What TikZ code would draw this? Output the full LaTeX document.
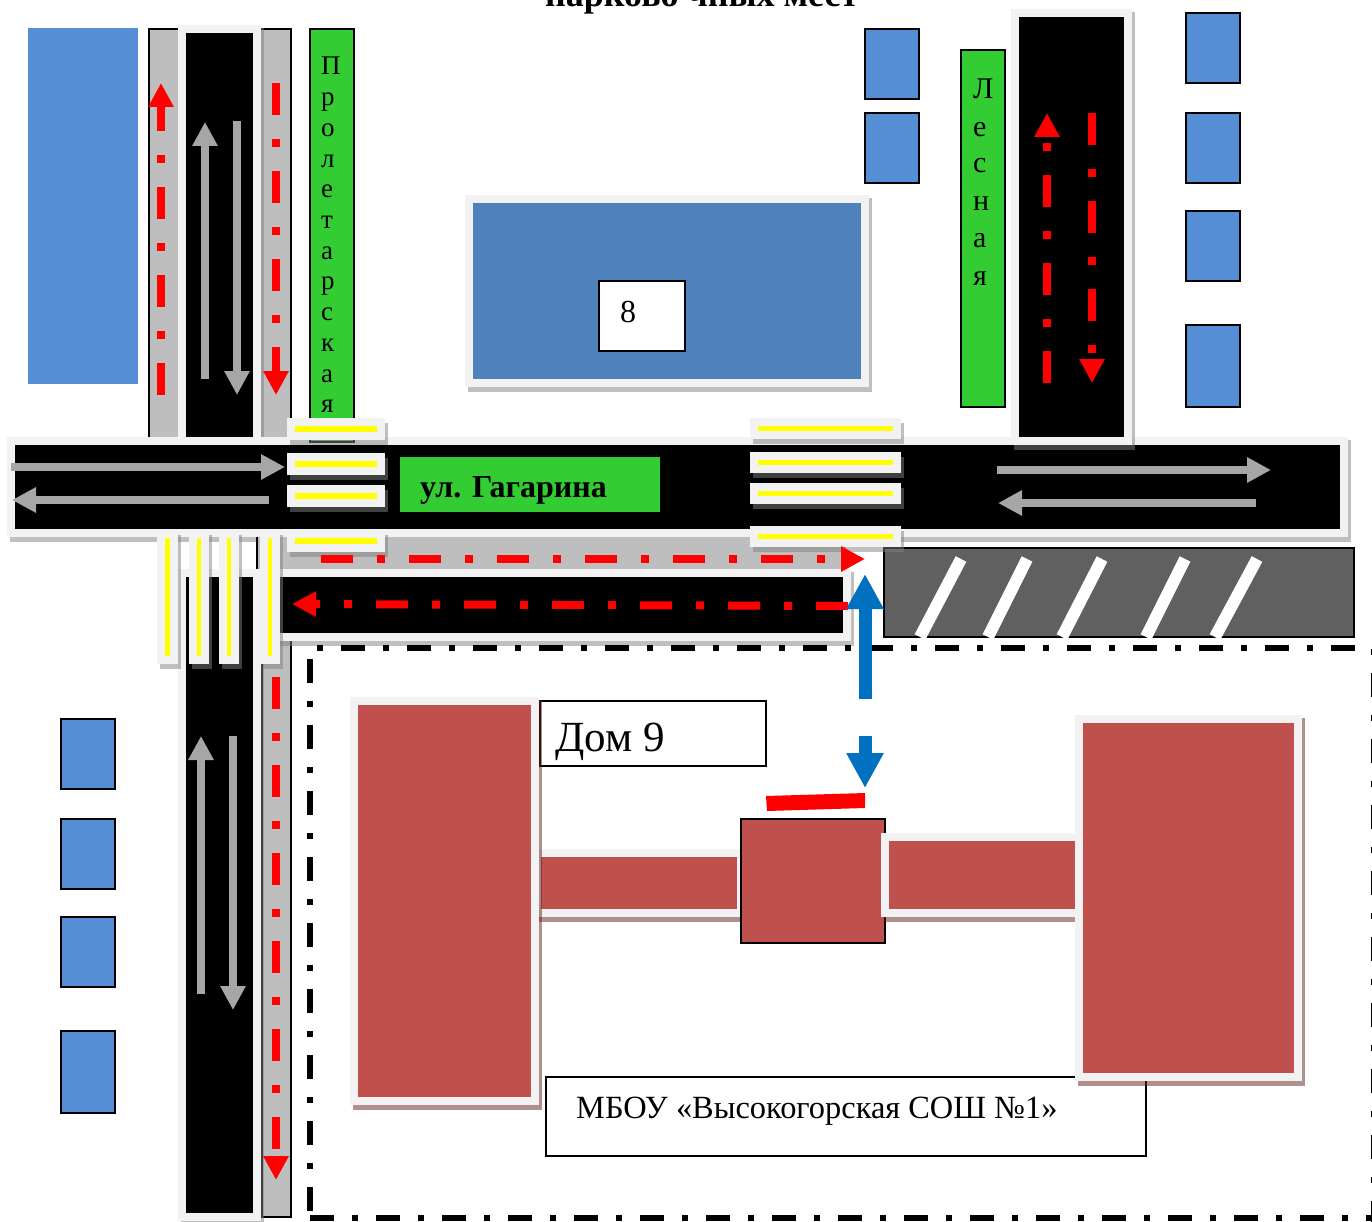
\documentclass[tikz,border=0pt]{standalone}
\usepackage{fontspec}
\setmainfont{Liberation Serif}
\usetikzlibrary{arrows.meta}
\definecolor{roadgrey}{HTML}{BEBEBE}
\definecolor{edgelight}{HTML}{F2F2F2}
\definecolor{shadowgrey}{HTML}{808080}
\definecolor{shadowred}{HTML}{622020}
\definecolor{carblue}{HTML}{558ED5}
\definecolor{bldblue}{HTML}{4F81BD}
\definecolor{labelgreen}{HTML}{33CC33}
\definecolor{brick}{HTML}{C0504D}
\definecolor{flowgrey}{HTML}{A6A6A6}
\definecolor{flowblue}{HTML}{0070C0}
\definecolor{parkgrey}{HTML}{606060}
\definecolor{zebra}{HTML}{FFFF00}
\tikzset{
  redflow/.style={draw=red,line width=8pt,dash pattern=on 32pt off 24pt on 8pt off 24pt,-{Triangle[length=24pt,width=24pt,fill=red]}},
  greyflow/.style={draw=flowgrey,line width=8pt,-{Triangle[length=24pt,width=24pt,fill=flowgrey]}},
  blueflow/.style={draw=flowblue,line width=13pt,-{Triangle[length=35pt,width=35pt,fill=flowblue]}},
  boundary/.style={black,line width=6pt},
  carbox/.style={fill=carblue,draw=black,line width=1.5pt},
  strip/.style={fill=roadgrey,draw=black,line width=1.5pt},
  greenlabel/.style={fill=labelgreen,draw=black,line width=1.5pt},
  caption/.style={inner sep=0pt,anchor=base west,font=\fontsize{#1}{#1}\selectfont},
  textbox/.style={fill=white,draw=black,line width=1.5pt},
}
% inner rectangle with light frame and offset shadow: {shadow}{x1}{y1}{x2}{y2}{fill}
\newcommand{\framedrect}[6]{%
  \fill[#1,opacity=.5] ({#2-5},{#3-5}) rectangle ({#4+11},{#5+13});
  \fill[edgelight] ({#2-8},{#3-8}) rectangle ({#4+8},{#5+8});
  \fill[#6] (#2,#3) rectangle (#4,#5);}
% light crossing bar with yellow core: {x1}{y1}{x2}{y2}, outer box
\newcommand{\crossbar}[4]{%
  \fill[shadowgrey,opacity=.5] ({#1+3},{#2+5}) rectangle ({#3+3},{#4+5});
  \fill[edgelight] (#1,#2) rectangle (#3,#4);
  \fill[zebra] ({#1+8},{#2+8}) rectangle ({#3-8},{#4-8});}
\begin{document}
\begin{tikzpicture}[x=1pt,y=-1pt]
\useasboundingbox (0,0) rectangle (1372,1222);
\clip (0,0) rectangle (1372,1222);

% caption clipped at the top
\node[caption=36] (title) at (545,7) {\bfseries парково чных мест};

% car parks and large block
\fill[carblue] (28,28) rectangle (138,384);
\draw[carbox] (865,29) rectangle (919,99);
\draw[carbox] (865,113) rectangle (919,183);
\draw[carbox] (1186,13) rectangle (1240,83);
\draw[carbox] (1186,113) rectangle (1240,183);
\draw[carbox] (1186,211) rectangle (1240,281);
\draw[carbox] (1186,325) rectangle (1240,407);
\draw[carbox] (61,719) rectangle (115,789);
\draw[carbox] (61,819) rectangle (115,889);
\draw[carbox] (61,917) rectangle (115,987);
\draw[carbox] (61,1031) rectangle (115,1113);

% ul. Proletarskaya, upper part
\draw[strip] (149,29) rectangle (291,445);
\framedrect{shadowgrey}{186}{33}{253}{437}{black}

% ul. Gagarina
\framedrect{shadowgrey}{15}{445}{1340}{529}{black}
\fill[labelgreen] (400,457) rectangle (660,512);
\node[caption=32] (gagarina) at (420,497) {\bfseries ул. Гагарина};

% street name labels
\draw[greenlabel] (310,29) rectangle (354,442);
\foreach \c/\y in {П/75,р/105.7,о/136.4,л/167.1,е/197.8,т/228.5,а/259.2,р/289.9,с/320.6,к/351.3,а/382,я/412.7}
  \node[caption=27] at (321,\y) {\c};

% ul. Lesnaya
\framedrect{shadowgrey}{1019}{17}{1124}{437}{black}
\draw[greenlabel] (961,50) rectangle (1005,407);
\foreach \c/\y in {Л/99,е/136.5,с/173,н/211,а/248,я/286}
  \node[caption=30] at (973,\y) {\c};

% service road and parking
\fill[roadgrey] (257,537) rectangle (846,570);
\draw[black,line width=1.5pt] (257,537) -- (257,570);
\draw[strip] (262,636) rectangle (291,1217);
\framedrect{shadowgrey}{255}{577}{843}{633}{black}
\framedrect{shadowgrey}{186}{577}{253}{1213}{black}
\draw[fill=parkgrey,draw=black,line width=2pt] (884,548) rectangle (1354,637);
\foreach \a/\b in {961/920,1027/988,1102/1062,1185/1146,1257/1215}
  \draw[white,line width=12pt] (\a,559) -- (\b,637);

% building 8
\framedrect{shadowgrey}{473}{203}{861}{379}{bldblue}
\draw[textbox] (599,281) rectangle (685,351);
\node[caption=32] (num8) at (620,323) {8};

% school
\draw[textbox] (546,1077) rectangle (1146,1156);
\node[caption=32.4] (school) at (576,1118) {МБОУ «Высокогорская СОШ №1»};
\draw[textbox] (540,701) rectangle (766,766);
\node[caption=43] (dom9) at (555,751.5) {Дом 9};
\framedrect{shadowred}{541}{857}{737}{909}{brick}
\framedrect{shadowred}{358}{705}{531}{1097}{brick}
\draw[fill=brick,draw=black,line width=1.5pt] (741,819) rectangle (885,943);
\framedrect{shadowred}{889}{841}{1075}{909}{brick}
\framedrect{shadowred}{1083}{723}{1294}{1073}{brick}
\fill[red] (766,796) -- (865,793) -- (865,808) -- (767,811) -- cycle;

% territory boundary
\coordinate (bTL) at (317,648);
\coordinate (bTR) at (1372,648);
\coordinate (bBL) at (310,1218);
\coordinate (bBR) at (1372,1218);
\coordinate (bLb) at (310,1211);
\coordinate (bLt) at (310,659);
\coordinate (bRt) at (1374,649);
\coordinate (bRb) at (1374,1222);
\draw[boundary,dash pattern=on 6pt off 18pt on 24pt off 18pt] (bTL) -- (bTR);
\draw[boundary,dash pattern=on 24pt off 18pt on 6pt off 18pt] (bBL) -- (bBR);
\draw[boundary,dash pattern=on 24pt off 18pt on 6pt off 18pt] (bLb) -- (bLt);
\draw[boundary,dash pattern=on 6pt off 18pt on 24pt off 18pt] (bRt) -- (bRb);

% pedestrian crossings
\crossbar{287}{418}{385}{440}
\crossbar{287}{453}{385}{475}
\crossbar{287}{485}{385}{507}
\crossbar{287}{530}{385}{552}
\crossbar{750}{418}{901}{439}
\crossbar{750}{452}{901}{473}
\crossbar{750}{483}{901}{504}
\crossbar{750}{526}{901}{547}
\crossbar{157}{530}{178}{664}
\crossbar{189}{530}{209}{664}
\crossbar{219}{530}{239}{664}
\crossbar{260}{530}{280}{664}

% vehicle flows
\coordinate (g1a) at (205,379); \coordinate (g1b) at (205,122);
\coordinate (g2a) at (237,121); \coordinate (g2b) at (237,395);
\coordinate (g3a) at (11,467);  \coordinate (g3b) at (285,467);
\coordinate (g4a) at (269,500); \coordinate (g4b) at (12,500);
\coordinate (g5a) at (997,470); \coordinate (g5b) at (1271,470);
\coordinate (g6a) at (1256,503);\coordinate (g6b) at (998,503);
\coordinate (g7a) at (201,994); \coordinate (g7b) at (201,736);
\coordinate (g8a) at (233,736); \coordinate (g8b) at (233,1010);
\foreach \n in {1,...,8} \draw[greyflow] (g\n a) -- (g\n b);

\coordinate (r1a) at (161,395);  \coordinate (r1b) at (161,83);
\coordinate (r2a) at (276,83);   \coordinate (r2b) at (276,395);
\coordinate (r3a) at (1047,383); \coordinate (r3b) at (1047,113);
\coordinate (r4a) at (1092,113); \coordinate (r4b) at (1092,383);
\coordinate (r5a) at (321,559);  \coordinate (r5b) at (865,559);
\coordinate (r6a) at (848,606);  \coordinate (r6b) at (292,604);
\coordinate (r7a) at (276,677);  \coordinate (r7b) at (276,1180);
\foreach \n in {1,...,7} \draw[redflow] (r\n a) -- (r\n b);

% pedestrian route
\coordinate (p1a) at (865,699); \coordinate (p1b) at (865,574);
\coordinate (p2a) at (865,736); \coordinate (p2b) at (865,788);
\draw[blueflow] (p1a) -- (p1b);
\draw[blueflow] (p2a) -- (p2b);
\end{tikzpicture}
\end{document}
